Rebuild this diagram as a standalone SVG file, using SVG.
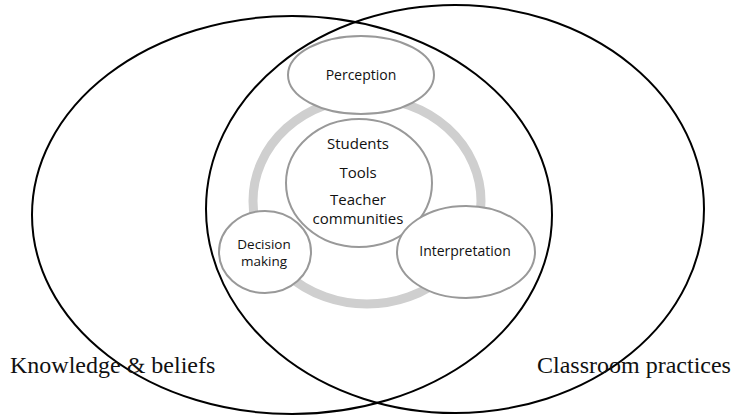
<svg xmlns="http://www.w3.org/2000/svg" width="736" height="418" viewBox="0 0 736 418">
<style>
.big{fill:none;stroke:#000;stroke-width:2}
.node{fill:#fff;stroke:#999;stroke-width:2}
.ring{fill:none;stroke:#cfcfcf;stroke-width:9}
.t{font-family:"Open Sans","Noto Sans",sans-serif;font-size:14px;fill:#111;text-anchor:middle}
.tc{font-family:"Open Sans","Noto Sans",sans-serif;font-size:15px;fill:#111;text-anchor:middle}
.lab{font-family:"Liberation Serif","Times New Roman",serif;font-size:24px;fill:#111}
</style>
<rect width="736" height="418" fill="#fff"/>
<g id="connectors">
<ellipse class="big" cx="292" cy="215" rx="260" ry="199"/>
<ellipse class="big" cx="455" cy="209" rx="249" ry="204"/>
<ellipse class="ring" cx="367" cy="201" rx="114" ry="103"/>
</g>
<g id="perception">
<ellipse class="node" cx="361" cy="75" rx="73" ry="39"/>
<text class="t" x="361" y="80">Perception</text>
</g>
<g id="center">
<ellipse class="node" cx="359" cy="183" rx="73" ry="64"/>
<text class="tc" x="358" y="149">Students</text>
<text class="tc" x="358" y="178">Tools</text>
<text class="tc" x="358" y="205">Teacher</text>
<text class="tc" x="358" y="224">communities</text>
</g>
<g id="decision">
<ellipse class="node" cx="265" cy="252" rx="46" ry="41"/>
<text class="t" x="264" y="249" style="font-size:13.5px">Decision</text>
<text class="t" x="264" y="266" style="font-size:13.5px">making</text>
</g>
<g id="interpretation">
<ellipse class="node" cx="466" cy="252" rx="69" ry="46"/>
<text class="t" x="465" y="256">Interpretation</text>
</g>
<g id="labels">
<text class="lab" x="10" y="373">Knowledge &amp; beliefs</text>
<text class="lab" x="537" y="373">Classroom practices</text>
</g>
</svg>
